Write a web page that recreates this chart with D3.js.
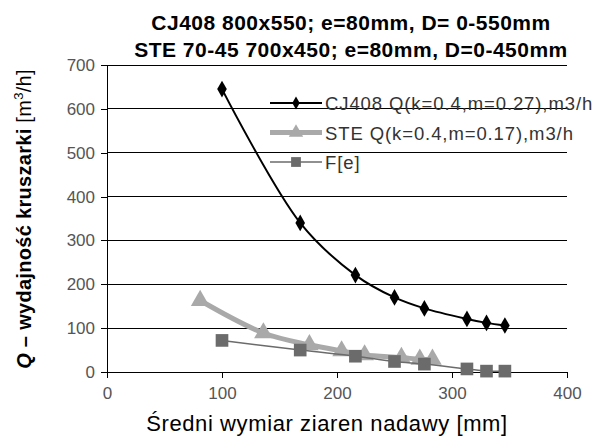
<!DOCTYPE html>
<html lang="pl">
<head>
    <meta charset="UTF-8">
    <title>Wydajność kruszarki</title>
    <script src="https://cdn.jsdelivr.net/npm/d3@7"></script>
    <style>
        body { margin: 0; background: #fff; }
        text { font-family: "Liberation Sans", Arial, sans-serif; }
    </style>
</head>
<body>
<script>

    // Data ////////////////////////////////////
    var cjX = [100, 168, 216, 250, 276, 313, 330, 346];
    var cjY = [645, 340, 221, 170, 145, 121, 112, 106];
    var steX = [81, 136, 176, 204, 224, 256, 272, 283];
    var steY = [163, 89, 62, 48, 39, 33, 29, 29];
    var feX = [100, 168, 216, 250, 276, 313, 330, 346];
    var feY = [72, 50, 36, 24, 18, 7, 2, 2];

    var xTicks = [0, 100, 200, 300, 400];
    var yTicks = [0, 100, 200, 300, 400, 500, 600, 700];

    var titleLines = ['CJ408 800x550; e=80mm, D= 0-550mm', 'STE 70-45 700x450; e=80mm, D=0-450mm'];
    var legendLabels = ['CJ408 Q(k=0.4,m=0.27),m3/h', 'STE Q(k=0.4,m=0.17),m3/h', 'F[e]'];

    // Layout ////////////////////////////////////
    var width = 597, height = 437;
    var margins = {top: 65, right: 30, bottom: 65, left: 107};

    var svg = d3.select('body').append('svg')
            .attr('width', width).attr('height', height);

    var x = d3.scaleLinear().domain([0, 400]).range([margins.left, width - margins.right]);
    var y = d3.scaleLinear().domain([0, 700]).range([height - margins.bottom, margins.top]);

    // Gridlines
    svg.append('g').selectAll('line').data(yTicks).enter().append('line')
            .attr('x1', x(0)).attr('x2', x(400))
            .attr('y1', function (d) { return y(d); })
            .attr('y2', function (d) { return y(d); })
            .style('stroke', '#000').style('stroke-width', 1)
            .attr('shape-rendering', 'crispEdges');

    // Axes
    var yAxis = svg.append('g').attr('transform', 'translate(' + x(0) + ',0)')
            .call(d3.axisLeft(y).tickValues(yTicks).tickSize(6).tickPadding(6));
    var xAxis = svg.append('g').attr('transform', 'translate(0,' + y(0) + ')')
            .call(d3.axisBottom(x).tickValues(xTicks).tickSize(6).tickPadding(9));

    [xAxis, yAxis].forEach(function (a) {
        a.selectAll('path, line').style('stroke', '#000').attr('shape-rendering', 'crispEdges');
        a.selectAll('text').style('font-size', '17px').style('fill', '#555')
                .style('font-family', '"Liberation Sans", Arial, sans-serif');
    });

    // Series ////////////////////////////////////
    function pts(xs, ys) {
        return xs.map(function (d, i) { return [d, ys[i]]; });
    }

    var line = d3.line()
            .x(function (d) { return x(d[0]); })
            .y(function (d) { return y(d[1]); })
            .curve(d3.curveCatmullRom.alpha(0.5));

    var series = [
        {name: legendLabels[0], data: pts(cjX, cjY), color: '#000', width: 2, symbol: d3.symbolDiamond, size: 80},
        {name: legendLabels[1], data: pts(steX, steY), color: '#a9a9a9', width: 5, symbol: d3.symbolTriangle, size: 150},
        {name: legendLabels[2], data: pts(feX, feY), color: '#6b6b6b', width: 1.5, symbol: d3.symbolSquare, size: 160}
    ];

    series.forEach(function (s) {
        var g = svg.append('g');
        g.append('path').datum(s.data)
                .attr('d', line)
                .style('fill', 'none').style('stroke', s.color).style('stroke-width', s.width);
        g.selectAll('path.mark').data(s.data).enter().append('path')
                .attr('class', 'mark')
                .attr('transform', function (d) { return 'translate(' + x(d[0]) + ',' + y(d[1]) + ')'; })
                .attr('d', d3.symbol().type(s.symbol).size(s.size))
                .style('fill', s.color);
    });

    // Legend ////////////////////////////////////
    var legend = svg.append('g').attr('transform', 'translate(270,103)');
    series.forEach(function (s, i) {
        var row = legend.append('g').attr('transform', 'translate(0,' + (i * 29.5) + ')');
        row.append('line').attr('x1', 0).attr('x2', 52)
                .style('stroke', s.color).style('stroke-width', s.width);
        row.append('path').attr('transform', 'translate(26,0)')
                .attr('d', d3.symbol().type(s.symbol).size(s.size * 0.6))
                .style('fill', s.color);
        row.append('text').attr('x', 55).attr('y', 7)
                .style('font-size', '18.5px').style('letter-spacing', '0.9px').style('fill', '#333')
                .text(s.name);
    });

    // Titles ////////////////////////////////////
    svg.append('g').selectAll('text').data(titleLines).enter().append('text')
            .attr('x', 351)
            .attr('y', function (d, i) { return 30 + i * 26.5; })
            .attr('text-anchor', 'middle')
            .style('font-size', '21px').style('font-weight', 'bold').style('letter-spacing', '0.5px')
            .style('fill', '#000')
            .text(function (d) { return d; });

    svg.append('text')
            .attr('x', 327).attr('y', 431)
            .attr('text-anchor', 'middle')
            .style('font-size', '22px').style('letter-spacing', '0.6px').style('fill', '#000')
            .text('Średni wymiar ziaren nadawy [mm]');

    var yLabel = svg.append('text')
            .attr('transform', 'translate(31,219) rotate(-90)')
            .attr('text-anchor', 'middle')
            .style('font-size', '20px').style('font-weight', 'bold').style('letter-spacing', '0.3px')
            .style('fill', '#000');
    yLabel.append('tspan').style('font-style', 'italic').text('Q');
    yLabel.append('tspan').text(' – wydajność kruszarki ');
    yLabel.append('tspan').style('font-weight', 'normal').text('[m');
    yLabel.append('tspan').style('font-weight', 'normal').style('font-size', '13px')
            .attr('dy', -8).text('3');
    yLabel.append('tspan').style('font-weight', 'normal').attr('dy', 8).text('/h]');

</script>
</body>
</html>
